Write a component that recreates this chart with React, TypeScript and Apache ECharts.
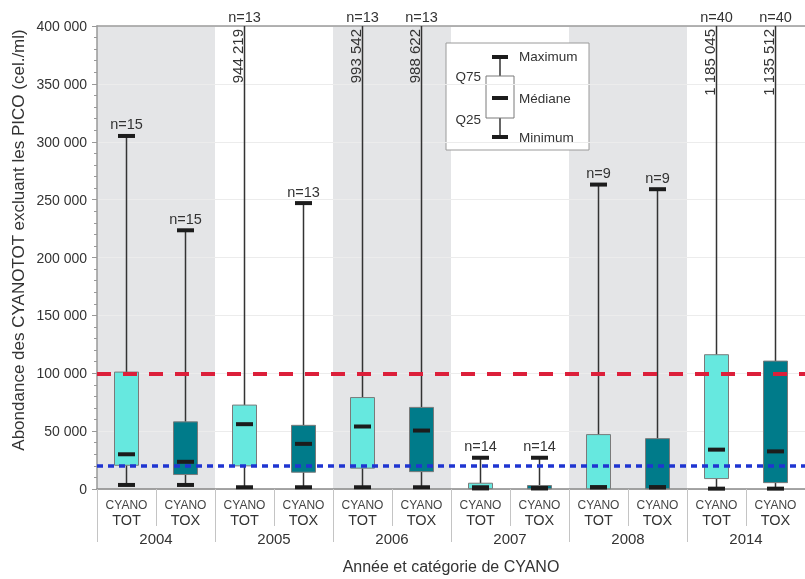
import React, { useEffect, useRef } from "react";
import * as echarts from "echarts";

const years = ["2004", "2005", "2006", "2007", "2008", "2014"];
const groups = ["TOT", "TOX"];
// order: 2004 TOT, 2004 TOX, 2005 TOT, 2005 TOX, ... 2014 TOX
const minimums = [3500, 3500, 1500, 1500, 1500, 1500, 500, 500, 1500, 1500, 300, 300];
const q25s = [20500, 12500, 20000, 14500, 18000, 15000, 300, 200, 200, 200, 9000, 5500];
const medians = [30000, 23500, 56000, 39000, 54000, 50500, 1500, 800, 1500, 1500, 34000, 32500];
const q75s = [101000, 58000, 72500, 55000, 79000, 70500, 5000, 3000, 47000, 43500, 116000, 110500];
const maximums = [305000, 223500, 944219, 247000, 993542, 988622, 27000, 27000, 263000, 259000, 1185045, 1135512];
const counts = [15, 15, 13, 13, 13, 13, 14, 14, 9, 9, 40, 40];
const shadedYears = ["2004", "2006", "2008"];
const yTicks = [0, 50000, 100000, 150000, 200000, 250000, 300000, 350000, 400000];
const thresholdHigh = 100000;
const thresholdLow = 20000;

const FONT = "'Liberation Sans', Arial, Helvetica, sans-serif";
const fmt = (v: number) => String(Math.round(v)).replace(/\B(?=(\d{3})+(?!\d))/g, " ");

export default function App() {
  const ref = useRef<HTMLDivElement>(null);
  useEffect(() => {
    if (!ref.current) return;
    const chart = echarts.init(ref.current, undefined, { renderer: "svg" });
    const categories: string[] = [];
    years.forEach((y) => groups.forEach((g) => categories.push(y + " " + g)));
    const yMax = yTicks[yTicks.length - 1];
    const boxData = categories.map((_, i) => [i, minimums[i], q25s[i], medians[i], q75s[i], maximums[i], counts[i]]);

    const renderItem = (params: any, api: any) => {
      const idx = api.value(0);
      const vMin = api.value(1), q1 = api.value(2), med = api.value(3), q3 = api.value(4), vMax = api.value(5), n = api.value(6);
      const cs = params.coordSys;
      const top = cs.y;
      const cx = api.coord([idx, 0])[0];
      const Y = (v: number) => Math.max(top, api.coord([idx, Math.min(v, yMax)])[1]);
      const isTox = idx % 2 === 1;
      const over = vMax > yMax;
      const children: any[] = [
        { type: "line", shape: { x1: cx, y1: Y(vMax), x2: cx, y2: Y(q3) }, style: { stroke: "#333", lineWidth: 1.5 } },
        { type: "line", shape: { x1: cx, y1: Y(q1), x2: cx, y2: Y(vMin) }, style: { stroke: "#333", lineWidth: 1.5 } },
        { type: "rect", shape: { x: cx - 12, y: Y(q3), width: 24, height: Y(q1) - Y(q3) }, style: { fill: isTox ? "#007b8a" : "#66e8df", stroke: "#7a7a7a", lineWidth: 1 } },
        { type: "rect", shape: { x: cx - 8.5, y: Y(med) - 2, width: 17, height: 4 }, style: { fill: "#1c1c1c" } },
        { type: "rect", shape: { x: cx - 8.5, y: Y(vMin) - 2, width: 17, height: 4 }, style: { fill: "#1c1c1c" } },
      ];
      if (!over) {
        children.push({ type: "rect", shape: { x: cx - 8.5, y: Y(vMax) - 2, width: 17, height: 4 }, style: { fill: "#1c1c1c" } });
        children.push({ type: "text", x: cx, y: Y(vMax) - 4, style: { text: "n=" + n, fill: "#333", fontSize: 14.5, fontFamily: FONT, align: "center", verticalAlign: "bottom" } });
      } else {
        children.push({ type: "text", x: cx, y: top - 9, style: { text: "n=" + n, fill: "#333", fontSize: 14.5, fontFamily: FONT, align: "center", verticalAlign: "middle" } });
        children.push({ type: "text", x: cx - 7.5, y: top + 3, rotation: Math.PI / 2, style: { text: fmt(vMax), fill: "#333", fontSize: 15, fontFamily: FONT, align: "right", verticalAlign: "middle" } });
      }
      return { type: "group", children };
    };

    const option: any = {
      animation: false,
      textStyle: { fontFamily: FONT },
      grid: { left: 97, top: 26, width: 711, height: 469 },
      xAxis: [
        {
          type: "category",
          data: categories,
          position: "bottom",
          boundaryGap: true,
          axisLine: { lineStyle: { color: "#888", width: 1.5 } },
          axisTick: { show: true, interval: 0, length: 37, lineStyle: { color: "#c4c4c4" } },
          axisLabel: {
            interval: 0,
            margin: 9,
            formatter: (_v: string, i: number) => `{a|CYANO}\n{b|${groups[i % 2]}}`,
            rich: {
              a: { fontSize: 12, color: "#444", lineHeight: 14, fontFamily: FONT },
              b: { fontSize: 14.5, color: "#333", lineHeight: 16, fontFamily: FONT },
            },
          },
          splitLine: { show: false },
        },
        {
          type: "category",
          data: years,
          position: "bottom",
          boundaryGap: true,
          axisLine: { show: false },
          axisTick: { show: true, interval: 0, length: 53, lineStyle: { color: "#c4c4c4" } },
          axisLabel: { interval: 0, margin: 42, fontSize: 15, color: "#333" },
          splitLine: { show: false },
          name: "Année et catégorie de CYANO",
          nameLocation: "middle",
          nameGap: 69,
          nameTextStyle: { fontSize: 16, color: "#333" },
        },
        {
          type: "category",
          data: categories,
          position: "top",
          axisLine: { show: true, lineStyle: { color: "#9a9a9a", width: 1.5 } },
          axisTick: { show: false },
          axisLabel: { show: false },
          splitLine: { show: false },
        },
      ],
      yAxis: {
        type: "value",
        min: 0,
        max: yMax,
        interval: 50000,
        axisLine: { show: true, lineStyle: { color: "#999", width: 1.5 } },
        axisTick: { show: true, length: 5, lineStyle: { color: "#999" } },
        minorTick: { show: true, splitNumber: 5, length: 3, lineStyle: { color: "#999" } },
        splitLine: { show: true, lineStyle: { color: "#ececec" } },
        axisLabel: { fontSize: 14, color: "#333", margin: 10, formatter: (v: number) => fmt(v) },
      },
      series: [
        {
          type: "bar",
          xAxisIndex: 1,
          yAxisIndex: 0,
          data: years.map((y) => (shadedYears.includes(y) ? yMax : "-")),
          barWidth: "100%",
          itemStyle: { color: "#e4e5e7" },
          z: -1,
          silent: true,
        },
        {
          type: "custom",
          xAxisIndex: 0,
          yAxisIndex: 0,
          renderItem,
          encode: { x: 0, y: [1, 2, 3, 4, 5] },
          data: boxData,
          z: 3,
          silent: true,
        },
        {
          type: "line",
          xAxisIndex: 0,
          yAxisIndex: 0,
          data: [],
          z: 5,
          silent: true,
          markLine: {
            silent: true,
            symbol: "none",
            label: { show: false },
            data: [
              { yAxis: thresholdHigh, lineStyle: { color: "#dc1f3a", width: 4, type: [14, 12] } },
              { yAxis: thresholdLow, lineStyle: { color: "#1f35d1", width: 3.5, type: [6, 5] } },
            ],
          },
        },
      ],
      graphic: [
        {
          type: "text",
          x: 18,
          y: 240,
          rotation: Math.PI / 2,
          style: { text: "Abondance des CYANOTOT excluant les PICO (cel./ml)", fill: "#333", fontSize: 17, fontFamily: FONT, align: "center", verticalAlign: "middle" },
        },
        {
          type: "group",
          z: 100,
          children: [
            { type: "rect", shape: { x: 446, y: 43, width: 143, height: 107 }, style: { fill: "#fff", stroke: "#9a9a9a", lineWidth: 1 } },
            { type: "line", shape: { x1: 500, y1: 57, x2: 500, y2: 76 }, style: { stroke: "#333", lineWidth: 1.5 } },
            { type: "line", shape: { x1: 500, y1: 118, x2: 500, y2: 137 }, style: { stroke: "#333", lineWidth: 1.5 } },
            { type: "rect", shape: { x: 486, y: 76, width: 28, height: 42 }, style: { fill: "#fff", stroke: "#7a7a7a", lineWidth: 1 } },
            { type: "rect", shape: { x: 492, y: 55, width: 16, height: 4 }, style: { fill: "#1c1c1c" } },
            { type: "rect", shape: { x: 492, y: 96, width: 16, height: 4 }, style: { fill: "#1c1c1c" } },
            { type: "rect", shape: { x: 492, y: 135, width: 16, height: 4 }, style: { fill: "#1c1c1c" } },
            { type: "text", x: 519, y: 56, style: { text: "Maximum", fill: "#333", fontSize: 13.5, fontFamily: FONT, align: "left", verticalAlign: "middle" } },
            { type: "text", x: 519, y: 98, style: { text: "Médiane", fill: "#333", fontSize: 13.5, fontFamily: FONT, align: "left", verticalAlign: "middle" } },
            { type: "text", x: 519, y: 137, style: { text: "Minimum", fill: "#333", fontSize: 13.5, fontFamily: FONT, align: "left", verticalAlign: "middle" } },
            { type: "text", x: 481, y: 76.5, style: { text: "Q75", fill: "#333", fontSize: 13.5, fontFamily: FONT, align: "right", verticalAlign: "middle" } },
            { type: "text", x: 481, y: 119, style: { text: "Q25", fill: "#333", fontSize: 13.5, fontFamily: FONT, align: "right", verticalAlign: "middle" } },
          ],
        },
      ],
    };
    chart.setOption(option);
    return () => chart.dispose();
  }, []);
  return <div ref={ref} style={{ position: "fixed", left: 0, top: 0, width: 805, height: 579 }} />;
}
